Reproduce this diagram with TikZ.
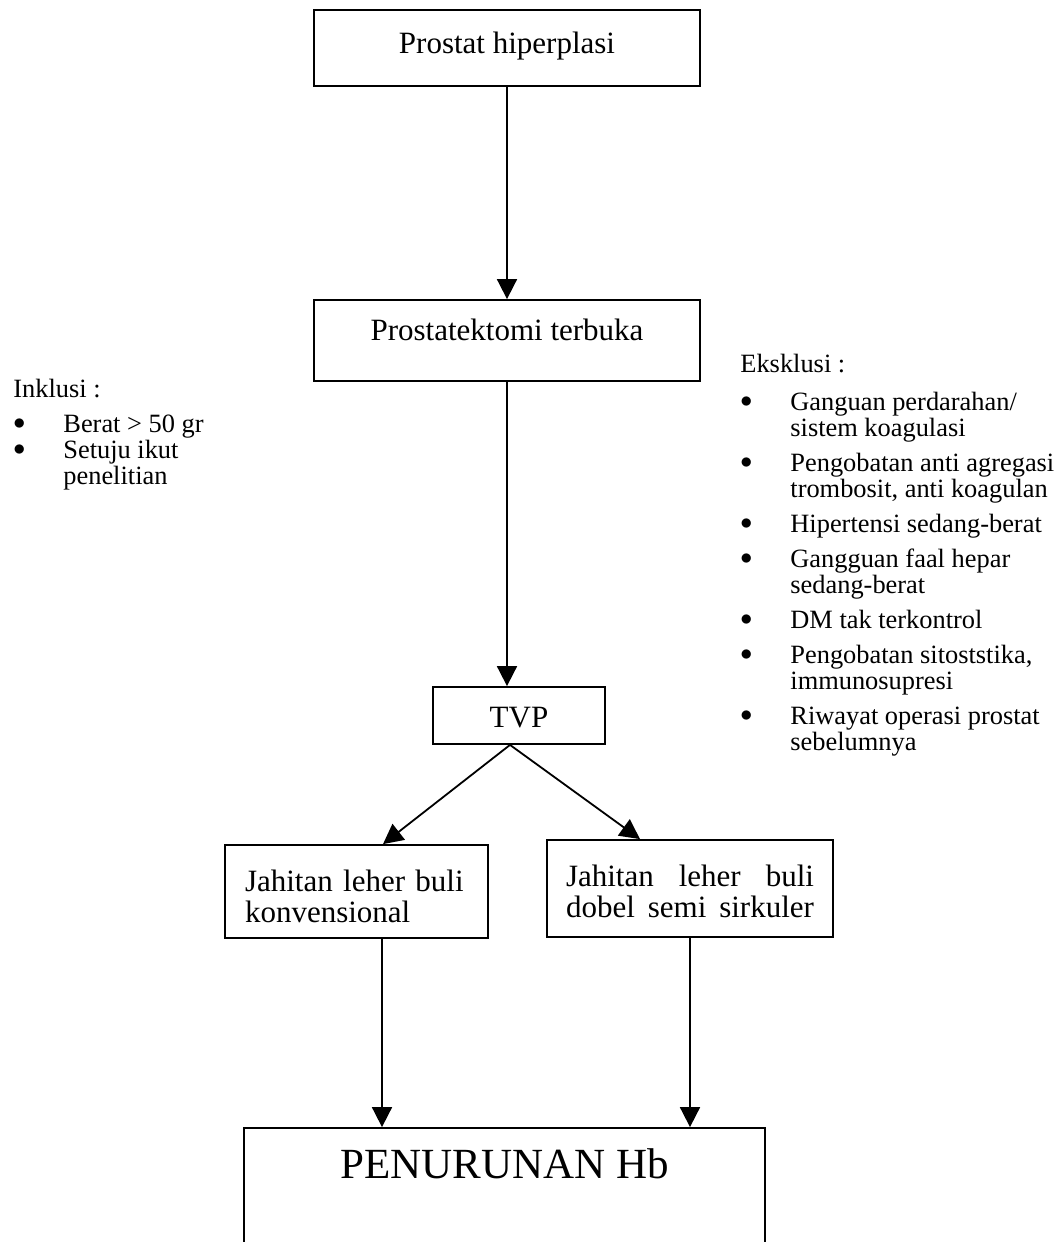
\documentclass[tikz,border=0pt]{standalone}
\usepackage{fontspec}
\setmainfont{Liberation Serif}
\usetikzlibrary{arrows.meta}

\newcommand{\lstbul}{\makebox[25pt][l]{\raisebox{1.5pt}{$\bullet$}}}
\newcommand{\lstind}{\hspace*{25pt}}

\begin{document}
\begin{tikzpicture}[x=0.5pt,y=-0.5pt,
  box/.style={draw, line width=0.9pt, inner sep=0pt, font=\fontsize{15.5pt}{15.5pt}\selectfont},
  arr/.style={line width=0.9pt, -{Triangle[length=10pt,width=10pt]}},
  lst/.style={inner sep=0pt, align=left, font=\fontsize{13.2pt}{13pt}\selectfont}]
\useasboundingbox (0,0) rectangle (1064,1242);

\node[box, anchor=base, minimum width=193pt, text height=21.5pt, text depth=16.5pt] (hyp) at (507,53) {Prostat hiperplasi};
\node[box, anchor=base, minimum width=193pt, text height=20pt, text depth=20.5pt] (tbk) at (507,340) {Prostatektomi terbuka};
\node[box, anchor=base, minimum width=86pt, text height=20pt, text depth=8.5pt] (tvp) at (519,727) {TVP};

\node[box, minimum width=131.5pt, minimum height=46.5pt, text width=111.5pt, inner xsep=10pt, align=left] (konv) at (356.5,891.5) {\rule{0pt}{16pt}Jahitan leher buli\\konvensional};
\node[box, minimum width=143pt, minimum height=48.5pt, text width=124pt, inner xsep=9.5pt, align=left] (dobel) at (690,888.5) {\rule{0pt}{14pt}\makebox[124pt]{Jahitan\hfill leher\hfill buli}\\\makebox[124pt]{dobel\hfill semi\hfill sirkuler}};

\node[box, anchor=base, minimum width=260.5pt, text height=25pt, text depth=40pt, font=\fontsize{21.5pt}{21.5pt}\selectfont] (hb) at (504.5,1178) {PENURUNAN Hb};

% kriteria
\node[lst, anchor=north west] (inkl) at (13,377) {\rule{0pt}{10pt}Inklusi :\\[4.5pt]
  \lstbul Berat > 50 gr\\
  \lstbul Setuju ikut\\
  \lstind penelitian};
\node[lst, anchor=north west] (eks) at (740,352) {\rule{0pt}{10pt}Eksklusi :\\[6pt]
  \lstbul Ganguan perdarahan/\\
  \lstind sistem koagulasi\\[4.5pt]
  \lstbul Pengobatan anti agregasi\\
  \lstind trombosit, anti koagulan\\[4.5pt]
  \lstbul Hipertensi sedang-berat\\[4.5pt]
  \lstbul Gangguan faal hepar\\
  \lstind sedang-berat\\[4.5pt]
  \lstbul DM tak terkontrol\\[4.5pt]
  \lstbul Pengobatan sitoststika,\\
  \lstind immunosupresi\\[4.5pt]
  \lstbul Riwayat operasi prostat\\
  \lstind sebelumnya};

% alur
\coordinate (split) at ([xshift=-4.5pt]tvp.south);
\coordinate (kout) at ([xshift=12.75pt]konv.south);
\draw[arr] (hyp) -- (tbk);
\draw[arr] (tbk.south) -- (tbk.south |- tvp.north);
\draw[arr] (split) -- ([xshift=13.25pt]konv.north);
\draw[arr] (split) -- ([xshift=-25pt]dobel.north);
\draw[arr] (kout) -- (kout |- hb.north);
\draw[arr] (dobel.south) -- (dobel.south |- hb.north);

\end{tikzpicture}
\end{document}
